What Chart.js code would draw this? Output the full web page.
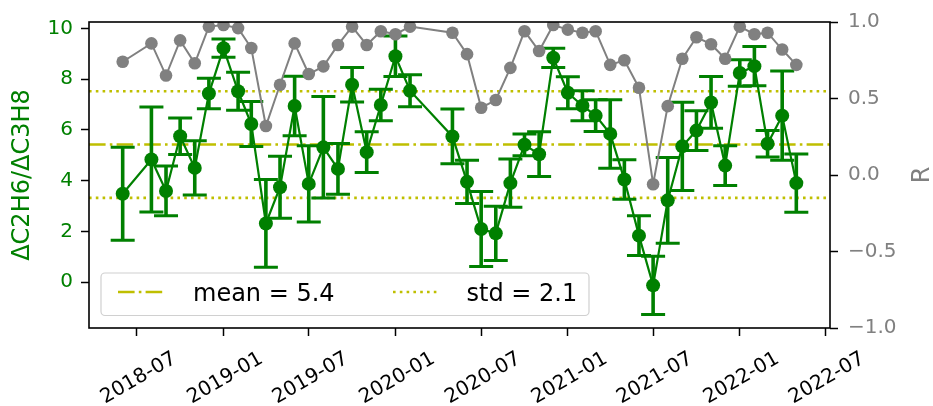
<!DOCTYPE html>
<html>
<head>
<meta charset="utf-8">
<script src="https://cdn.jsdelivr.net/npm/chart.js@4/dist/chart.umd.min.js"></script>
<style>
  html, body { margin: 0; background: #fff; }
  canvas { display: block; }
</style>
</head>
<body>
<canvas id="chart" width="933" height="406"></canvas>
<script>
// monthly samples (first of month)
const months = [
  '2018-06', '2018-08', '2018-09', '2018-10', '2018-11', '2018-12',
  '2019-01', '2019-02', '2019-03', '2019-04', '2019-05', '2019-06',
  '2019-07', '2019-08', '2019-09', '2019-10', '2019-11', '2019-12',
  '2020-01', '2020-02', '2020-05', '2020-06', '2020-07', '2020-08',
  '2020-09', '2020-10', '2020-11', '2020-12',
  '2021-01', '2021-02', '2021-03', '2021-04', '2021-05', '2021-06',
  '2021-07', '2021-08', '2021-09', '2021-10', '2021-11', '2021-12',
  '2022-01', '2022-02', '2022-03', '2022-04', '2022-05',
]
const ratio = [
  3.48, 4.83, 3.59, 5.75, 4.50, 7.43,
  9.22, 7.52, 6.23, 2.31, 3.74, 6.94,
  3.87, 5.31, 4.46, 7.78, 5.12, 6.98,
  8.90, 7.54, 5.74, 3.95, 2.09, 1.92,
  3.90, 5.41, 5.04, 8.84,
  7.46, 6.95, 6.56, 5.84, 4.04, 1.83,
  -0.13, 3.22, 5.35, 5.97, 7.08, 4.59,
  8.24, 8.51, 5.45, 6.56, 3.90,
]
const ratioErr = [
  1.83, 2.07, 0.98, 0.72, 1.07, 0.60,
  0.36, 0.75, 0.89, 1.73, 1.22, 1.17,
  1.50, 2.00, 1.00, 0.68, 0.80, 0.62,
  0.80, 0.63, 1.08, 0.85, 1.48, 1.07,
  0.95, 0.43, 0.88, 0.38,
  0.63, 0.59, 0.63, 1.35, 0.78, 0.78,
  1.15, 1.69, 1.74, 0.78, 1.02, 0.78,
  0.52, 0.77, 0.52, 1.76, 1.15,
]
const corr = [
  0.74, 0.86, 0.65, 0.88, 0.73, 0.97,
  0.98, 0.96, 0.83, 0.32, 0.59, 0.86,
  0.66, 0.71, 0.85, 0.97, 0.85, 0.94,
  0.92, 0.97, 0.93, 0.79, 0.44, 0.49,
  0.70, 0.94, 0.81, 0.98,
  0.95, 0.93, 0.94, 0.72, 0.75, 0.57,
  -0.06, 0.45, 0.76, 0.90, 0.855, 0.76,
  0.97, 0.92, 0.93, 0.82, 0.72,
]
const xTickLabels = [
  '2018-07', '2019-01', '2019-07', '2020-01', '2020-07',
  '2021-01', '2021-07', '2022-01', '2022-07',
]
const yTicks = [0, 2, 4, 6, 8, 10]
const rTicks = [-1, -0.5, 0, 0.5, 1]
const MEAN = 5.42
const STD = 2.1

const GREEN = '#008000'
const GRAY = '#808080'
const YELLOW = '#bfbf00'
const FONT = 'DejaVu Sans'
const MEAN_DASH = [16.6, 4.2, 2.6, 4.2]
const STD_DASH = [2.6, 4.2]

const toTime = (s) => {
  const [y, m] = s.split('-').map(Number)
  return Date.UTC(y, m - 1, 1)
}
const xs = months.map(toTime)
const span = xs[xs.length - 1] - xs[0]
const xMin = xs[0] - span * 0.05
const xMax = xs[xs.length - 1] + span * 0.05

const meanLabel = 'mean = ' + MEAN.toFixed(1)
const stdLabel = 'std = ' + STD.toFixed(1)

const errorBars = {
  id: 'errorBars',
  beforeDatasetDraw(chart, args) {
    if (chart.data.datasets[args.index].label !== 'ratio') return
    const { ctx, scales } = chart
    ctx.save()
    ctx.strokeStyle = GREEN
    xs.forEach((t, i) => {
      const px = scales.x.getPixelForValue(t)
      const top = scales.y.getPixelForValue(ratio[i] + ratioErr[i])
      const bot = scales.y.getPixelForValue(ratio[i] - ratioErr[i])
      ctx.lineWidth = 3.6
      ctx.beginPath()
      ctx.moveTo(px, top)
      ctx.lineTo(px, bot)
      ctx.stroke()
      ctx.lineWidth = 3
      ctx.beginPath()
      ctx.moveTo(px - 12, top)
      ctx.lineTo(px + 12, top)
      ctx.moveTo(px - 12, bot)
      ctx.lineTo(px + 12, bot)
      ctx.stroke()
    })
    ctx.restore()
  },
}

const frameAndLegend = {
  id: 'frameAndLegend',
  afterDatasetsDraw(chart) {
    const { ctx, chartArea: a } = chart
    ctx.save()
    // legend box, lower left
    const bx = a.left + 12
    const by = a.bottom - 55
    const bw = 488
    const bh = 42.5
    ctx.beginPath()
    ctx.roundRect(bx, by, bw, bh, 4)
    ctx.fillStyle = 'rgba(255,255,255,0.8)'
    ctx.fill()
    ctx.strokeStyle = '#d0d0d0'
    ctx.lineWidth = 1.2
    ctx.stroke()

    const ly = by + 19
    ctx.strokeStyle = YELLOW
    ctx.lineWidth = 2.6
    ctx.setLineDash(MEAN_DASH)
    ctx.beginPath()
    ctx.moveTo(bx + 17, ly)
    ctx.lineTo(bx + 64, ly)
    ctx.stroke()
    ctx.setLineDash(STD_DASH)
    ctx.beginPath()
    ctx.moveTo(bx + 292, ly)
    ctx.lineTo(bx + 339, ly)
    ctx.stroke()
    ctx.setLineDash([])

    ctx.fillStyle = '#000'
    ctx.font = '24px "' + FONT + '"'
    ctx.textBaseline = 'alphabetic'
    ctx.textAlign = 'left'
    ctx.fillText(meanLabel, bx + 92, by + 28.3)
    ctx.fillText(stdLabel, bx + 365.5, by + 28.3)

    // axes frame
    ctx.strokeStyle = '#000'
    ctx.lineWidth = 1.6
    ctx.strokeRect(a.left, a.top, a.right - a.left, a.bottom - a.top)
    ctx.restore()
  },
  afterDraw(chart) {
    const { ctx, chartArea: a } = chart
    ctx.save()
    ctx.translate(923, (a.top + a.bottom) / 2)
    ctx.rotate(-Math.PI / 2)
    ctx.fillStyle = GRAY
    ctx.font = '24px "' + FONT + '"'
    ctx.textAlign = 'center'
    ctx.textBaseline = 'middle'
    ctx.fillText('R', 0, 0)
    ctx.restore()
  },
}

const tickGrid = {
  drawOnChartArea: false,
  tickLength: 8,
  tickWidth: 1.5,
  tickColor: '#000',
}

new Chart(document.getElementById('chart'), {
  type: 'line',
  data: {
    datasets: [
      {
        label: 'R',
        data: xs.map((x, i) => ({ x, y: corr[i] })),
        yAxisID: 'y2',
        borderColor: GRAY,
        backgroundColor: GRAY,
        borderWidth: 2,
        pointRadius: 6.3,
        pointBorderWidth: 0,
        order: 0,
      },
      {
        label: 'ratio',
        data: xs.map((x, i) => ({ x, y: ratio[i] })),
        yAxisID: 'y',
        borderColor: GREEN,
        backgroundColor: GREEN,
        borderWidth: 2.2,
        pointRadius: 7,
        pointBorderWidth: 0,
        order: 1,
      },
      {
        label: meanLabel,
        data: [{ x: xMin, y: MEAN }, { x: xMax, y: MEAN }],
        yAxisID: 'y',
        borderColor: YELLOW,
        borderWidth: 2.6,
        borderDash: MEAN_DASH,
        pointRadius: 0,
        order: 2,
      },
      {
        label: stdLabel,
        data: [
          { x: xMin, y: MEAN + STD },
          { x: xMax, y: MEAN + STD },
          { x: xMax, y: null },
          { x: xMin, y: MEAN - STD },
          { x: xMax, y: MEAN - STD },
        ],
        yAxisID: 'y',
        borderColor: YELLOW,
        borderWidth: 2.6,
        borderDash: STD_DASH,
        pointRadius: 0,
        order: 3,
      },
    ],
  },
  options: {
    responsive: false,
    animation: false,
    layout: { padding: { top: 20, left: 0, right: 0, bottom: 0 } },
    plugins: {
      legend: { display: false },
      tooltip: { enabled: false },
    },
    scales: {
      x: {
        type: 'linear',
        min: xMin,
        max: xMax,
        afterBuildTicks: (s) => {
          s.ticks = xTickLabels.map((l) => ({ value: toTime(l) }))
        },
        afterFit: (s) => {
          s.height = 78
        },
        grid: tickGrid,
        border: { display: false },
        ticks: {
          autoSkip: false,
          minRotation: 30,
          maxRotation: 30,
          labelOffset: 38,
          padding: 11,
          color: '#000',
          font: { family: FONT, size: 20 },
          callback: (v, i) => xTickLabels[i],
        },
      },
      y: {
        position: 'left',
        min: -1.81,
        max: 10.25,
        afterBuildTicks: (s) => {
          s.ticks = yTicks.map((v) => ({ value: v }))
        },
        afterFit: (s) => {
          s.width = 89
        },
        grid: tickGrid,
        border: { display: false },
        ticks: {
          padding: 8,
          color: GREEN,
          font: { family: FONT, size: 20 },
          callback: (v) => String(v),
        },
        title: {
          display: true,
          text: 'ΔC2H6/ΔC3H8',
          color: GREEN,
          font: { family: FONT, size: 24 },
          padding: { top: 8, bottom: 0 },
        },
      },
      y2: {
        position: 'right',
        min: -1,
        max: 1,
        afterBuildTicks: (s) => {
          s.ticks = rTicks.map((v) => ({ value: v }))
        },
        afterFit: (s) => {
          s.width = 103
        },
        grid: tickGrid,
        border: { display: false },
        ticks: {
          padding: 10,
          color: GRAY,
          font: { family: FONT, size: 20 },
          callback: (v) => v.toFixed(1).replace('-', '\u2212'),
        },
      },
    },
  },
  plugins: [errorBars, frameAndLegend],
})
</script>
</body>
</html>
